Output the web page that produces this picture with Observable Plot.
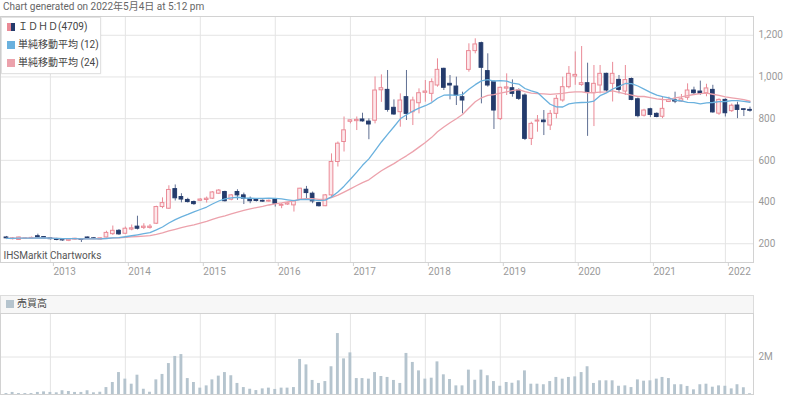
<!DOCTYPE html>
<html>
<head>
<meta charset="utf-8">
<script src="https://cdn.jsdelivr.net/npm/d3@7"></script>
<script src="https://cdn.jsdelivr.net/npm/@observablehq/plot@0.6"></script>
<style>
  html, body { margin: 0; padding: 0; background: #fff; }
  body { width: 800px; height: 396px; position: relative; overflow: hidden;
         font-family: Roboto, "Noto Sans CJK JP", sans-serif; }
  .abs { position: absolute; }
  #title { left: 3px; top: 1px; font-size: 10px; line-height: 12px; color: #666; white-space: nowrap; }
  #legend { left: 1px; top: 17px; width: 98px; height: 55px; background: #fff;
            border: 1px solid #e2e2e2; box-shadow: 0 0 2px rgba(0,0,0,0.08); }
  .item { position: absolute; left: 0; height: 12px; font-size: 10px; line-height: 12px; color: #444; white-space: nowrap; }
  .sw { position: absolute; left: 5px; top: 2px; width: 8px; height: 8px; }
  .lbl { position: absolute; left: 16px; top: 0; }
  #volhead { left: 0; top: 295px; width: 752px; height: 17px; background: #f7f7f7;
             border: 1px solid #dcdcdc; border-bottom: 1px solid #dcdcdc; }
</style>
</head>
<body>
<div id="title" class="abs">Chart generated on 2022年5月4日 at 5:12 pm</div>
<div id="main" class="abs" style="left:0;top:16px;"></div>
<div id="legend" class="abs"></div>
<div id="volhead" class="abs"></div>
<div id="vol" class="abs" style="left:0;top:295px;"></div>
<script>
// ---- data (monthly candles) ----
const months = [
  "2012-06","2012-07","2012-08","2012-09","2012-10","2012-11","2012-12",
  "2013-01","2013-02","2013-03","2013-04","2013-05","2013-06","2013-07","2013-08","2013-09","2013-10","2013-11","2013-12",
  "2014-01","2014-02","2014-03","2014-04","2014-05","2014-06","2014-07","2014-08","2014-09","2014-10","2014-11","2014-12",
  "2015-01","2015-02","2015-03","2015-04","2015-05","2015-06","2015-07","2015-08","2015-09","2015-10","2015-11","2015-12",
  "2016-01","2016-02","2016-03","2016-04","2016-05","2016-06","2016-07","2016-08","2016-09","2016-10","2016-11","2016-12",
  "2017-01","2017-02","2017-03","2017-04","2017-05","2017-06","2017-07","2017-08","2017-09","2017-10","2017-11","2017-12",
  "2018-01","2018-02","2018-03","2018-04","2018-05","2018-06","2018-07","2018-08","2018-09","2018-10","2018-11","2018-12",
  "2019-01","2019-02","2019-03","2019-04","2019-05","2019-06","2019-07","2019-08","2019-09","2019-10","2019-11","2019-12",
  "2020-01","2020-02","2020-03","2020-04","2020-05","2020-06","2020-07","2020-08","2020-09","2020-10","2020-11","2020-12",
  "2021-01","2021-02","2021-03","2021-04","2021-05","2021-06","2021-07","2021-08","2021-09","2021-10","2021-11","2021-12",
  "2022-01","2022-02","2022-03","2022-04","2022-05"
];
const open = [
  230,222,218,224,226,236,232,
  226,222,220,214,220,222,230,226,220,230,246,262,
  248,268,282,276,276,296,376,368,462,424,410,400,
  406,410,416,440,448,411,448,432,415,410,406,402,
  410,382,388,384,411,459,440,395,380,432,592,688,
  785,788,796,786,790,936,938,852,831,903,831,874,
  924,919,959,1039,967,954,903,1034,1124,1162,1028,975,
  798,944,946,935,911,703,786,791,767,823,887,951,
  1002,962,970,922,959,1015,967,986,930,990,893,814,
  845,823,809,880,888,882,900,935,930,922,938,824,
  890,836,863,845,842
];
const high = [
  235,230,232,228,232,246,234,
  228,226,222,222,226,224,232,230,228,260,285,268,
  280,290,332,296,292,380,420,478,482,440,418,405,
  416,424,450,460,452,436,459,443,424,416,410,410,
  416,392,398,408,466,475,448,398,436,631,688,808,
  795,808,826,799,1000,1010,1031,890,919,1031,903,943,
  983,991,1087,1042,1007,999,927,1159,1183,1167,1111,983,
  951,1015,986,943,919,783,815,839,839,911,999,1050,
  1120,1146,1066,1055,1055,1018,1070,1007,1055,995,899,845,
  850,828,906,903,927,916,967,951,980,965,960,895,
  895,870,879,846,855
];
const low = [
  220,218,216,222,224,226,222,
  218,214,212,210,216,206,222,220,218,228,240,240,
  244,262,266,268,270,292,368,365,405,396,395,384,
  402,395,412,436,400,406,408,388,392,400,398,398,
  376,368,384,352,408,408,392,376,378,424,568,640,
  775,743,783,699,775,878,831,816,759,791,767,823,
  879,879,951,935,890,863,823,1023,1111,871,951,748,
  791,911,903,887,695,671,735,719,743,799,879,943,
  960,955,715,762,919,927,880,919,911,886,804,808,
  806,804,800,877,872,878,888,911,912,905,826,816,
  808,830,800,810,831
];
const close = [
  226,226,230,226,228,230,226,
  222,218,216,220,224,218,226,224,226,252,262,245,
  272,274,272,282,282,376,395,458,418,412,400,390,
  412,416,446,455,404,432,432,416,404,405,402,406,
  392,386,394,404,464,443,403,380,432,592,680,744,
  792,794,787,772,935,946,842,820,887,823,887,922,
  930,975,1034,948,959,911,887,1124,1156,1044,959,839,
  948,950,919,895,703,775,791,783,823,895,951,1015,
  1010,970,927,967,1015,935,1015,938,985,890,812,839,
  818,808,847,890,882,893,935,922,920,945,830,890,
  826,862,842,842,838
];
// volume in millions of shares
const volume = [
  0.05,0.11,0.05,0.05,0.05,0.11,0.14,
  0.11,0.09,0.20,0.16,0.11,0.11,0.20,0.09,0.12,0.37,0.64,1.17,
  0.82,0.55,1.03,0.28,0.12,0.78,1.07,1.65,2.03,2.13,0.85,0.64,
  0.34,0.46,0.78,0.98,1.17,1.00,0.59,0.37,0.28,0.21,0.30,0.34,
  0.27,0.34,0.34,0.37,1.87,1.58,0.75,0.59,0.69,1.48,3.25,1.90,
  2.22,0.85,0.85,0.82,1.17,0.96,0.91,0.75,0.59,2.19,1.71,1.26,
  0.82,0.87,1.74,1.05,0.80,0.46,0.46,1.30,0.76,1.30,1.00,0.69,
  0.44,0.64,0.60,0.73,1.26,0.55,0.55,0.52,0.69,0.91,0.82,0.91,
  0.94,1.17,1.48,0.59,0.73,0.73,0.73,0.44,0.46,0.37,0.78,0.71,
  0.73,0.82,0.91,0.85,0.52,0.52,0.43,0.25,0.52,0.55,0.39,0.46,
  0.44,0.30,0.52,0.36,0.04
];
const yearLabels = ["2013","2014","2015","2016","2017","2018","2019","2020","2021","2022"];
const priceTicks = [200, 400, 600, 800, 1000, 1200];
const volumeTicks = [2];

const seriesNames = ["ＩＤＨＤ(4709)", "単純移動平均 (12)", "単純移動平均 (24)"];
const volumeName = "売買高";

// ---- colours ----
const UP = "#ea8a96", UPFILL = "#fde9ec", DOWN = "#243b6c", DOWNWICK = "#5f6f93";
const MA12 = "#6ab1de", MA24 = "#eca2ac", VOL = "#b5c4ce", GRID = "#e4e4e4", FRAME = "#d2d2d2", AX = "#9a9a9a";

const data = months.map((m, i) => ({
  date: new Date(m + "-01"), open: open[i], high: high[i], low: low[i], close: close[i], volume: volume[i]
}));
const years = yearLabels.map(y => new Date(y + "-01-01"));
const xDomain = [new Date("2012-05-03"), new Date("2022-05-18")];
const font = 'Roboto, "Noto Sans CJK JP", sans-serif';

const main = Plot.plot({
  width: 800, height: 264,
  marginTop: 0, marginRight: 47, marginBottom: 18, marginLeft: 0,
  style: {fontFamily: font, fontSize: "10px", background: "transparent", overflow: "visible"},
  x: {type: "utc", domain: xDomain},
  y: {domain: [110, 1290]},
  marks: [
    Plot.gridY(priceTicks, {stroke: GRID, strokeOpacity: 1}),
    Plot.gridX(years, {stroke: GRID, strokeOpacity: 1}),
    Plot.frame({stroke: FRAME}),
    Plot.ruleX(data, {x: "date", y1: "low", y2: "high",
      stroke: d => d.close >= d.open ? UP : DOWNWICK, strokeWidth: 1}),
    Plot.rect(data, {
      x1: d => d3.utcDay.offset(d.date, -9), x2: d => d3.utcDay.offset(d.date, 9),
      y1: "open", y2: "close",
      fill: d => d.close >= d.open ? UPFILL : DOWN,
      stroke: d => d.close >= d.open ? UP : DOWN, strokeWidth: 1
    }),
    Plot.lineY(data, Plot.windowY({k: 24, anchor: "end", strict: false},
      {x: "date", y: "close", stroke: MA24, strokeWidth: 1.3})),
    Plot.lineY(data, Plot.windowY({k: 12, anchor: "end", strict: false},
      {x: "date", y: "close", stroke: MA12, strokeWidth: 1.3})),
    Plot.axisY(priceTicks, {anchor: "right", tickSize: 0, tickPadding: 5, label: null,
      tickFormat: d3.format(","), fill: AX, fontSize: 10}),
    Plot.axisX(years, {anchor: "bottom", tickSize: 4, tickPadding: 1, stroke: FRAME, label: null,
      textAnchor: "start", dx: 3, tickFormat: d3.utcFormat("%Y"), fill: AX, fontSize: 10}),
    Plot.text(["IHSMarkit Chartworks"], {frameAnchor: "bottom-left", dx: 3, dy: -7,
      lineAnchor: "middle", textAnchor: "start", fill: "#555", fontSize: 10})
  ]
});
document.getElementById("main").appendChild(main);

const vol = Plot.plot({
  width: 800, height: 99,
  marginTop: 18, marginRight: 47, marginBottom: 0, marginLeft: 0,
  style: {fontFamily: font, fontSize: "10px", background: "transparent", overflow: "visible"},
  x: {type: "utc", domain: xDomain, axis: null},
  y: {domain: [0, 4.32], label: null},
  marks: [
    Plot.gridY(volumeTicks, {stroke: GRID, strokeOpacity: 1}),
    Plot.gridX(years, {stroke: GRID, strokeOpacity: 1}),
    Plot.frame({stroke: FRAME}),
    Plot.rect(data, {
      x1: d => d3.utcDay.offset(d.date, -7), x2: d => d3.utcDay.offset(d.date, 7),
      y1: 0, y2: "volume", fill: VOL
    }),
    Plot.axisY(volumeTicks, {anchor: "right", tickSize: 0, tickPadding: 5, label: null,
      tickFormat: d => d + "M", fill: AX, fontSize: 10})
  ]
});
document.getElementById("vol").appendChild(vol);

// ---- legends (HTML) ----
const legend = document.getElementById("legend");
const rows = [
  {name: seriesNames[0], sw: `linear-gradient(to right, ${UP} 0 50%, ${DOWN} 50% 100%)`},
  {name: seriesNames[1], sw: MA12},
  {name: seriesNames[2], sw: MA24}
];
const rowTops = [3, 21, 39];
rows.forEach((r, i) => {
  const it = document.createElement("div");
  it.className = "item";
  it.style.top = rowTops[i] + "px";
  it.innerHTML = `<div class="sw" style="background:${r.sw}"></div><div class="lbl">${r.name}</div>`;
  legend.appendChild(it);
});
const vh = document.getElementById("volhead");
const vit = document.createElement("div");
vit.className = "item";
vit.style.top = "2px";
vit.innerHTML = `<div class="sw" style="background:${VOL}"></div><div class="lbl">${volumeName}</div>`;
vh.appendChild(vit);
</script>
</body>
</html>
